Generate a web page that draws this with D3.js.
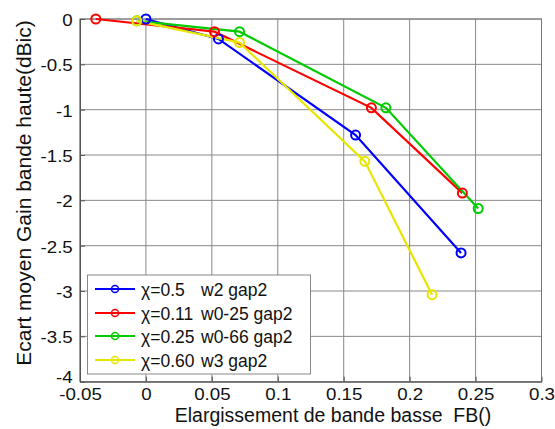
<!DOCTYPE html>
<html><head><meta charset="utf-8">
<script src="https://cdn.jsdelivr.net/npm/d3@7"></script>
<style>body{margin:0;background:#fff}svg{display:block;font-family:Arial,"Liberation Sans",sans-serif}</style>
</head><body><svg id="c" width="555" height="429"></svg>
<script>
const seriesNames = ["χ=0.5", "χ=0.11", "χ=0.25", "χ=0.60"];
const seriesSuffix = ["w2 gap2", "w0-25 gap2", "w0-66 gap2", "w3 gap2"];
const seriesColors = ["#0000ff", "#ff0000", "#00cc00", "#e6e600"];
const blueX = [0, 0.055, 0.159, 0.239];
const blueY = [0, -0.22, -1.28, -2.58];
const redX = [-0.038, 0.052, 0.171, 0.240];
const redY = [0, -0.14, -0.98, -1.92];
const greenX = [-0.007, 0.071, 0.182, 0.252];
const greenY = [-0.02, -0.14, -0.98, -2.09];
const yellowX = [-0.007, 0.071, 0.166, 0.217];
const yellowY = [-0.02, -0.26, -1.57, -3.04];
const xTicks = [-0.05, 0, 0.05, 0.1, 0.15, 0.2, 0.25, 0.3];
const yTicks = [0, -0.5, -1, -1.5, -2, -2.5, -3, -3.5, -4];
const xLabel = "Elargissement de bande basse  FB()";
const yLabel = "Ecart moyen Gain bande haute(dBic)";

const svg = d3.select("#c");
const L = 80, R = 541.5, T = 19, B = 381.7;
const x = d3.scaleLinear().domain([-0.05, 0.3]).range([L, R]);
const y = d3.scaleLinear().domain([-4, 0]).range([B, T]);
const gridC = "#888";

// grid
svg.append("g").selectAll("line").data(xTicks).join("line")
  .attr("x1", d => x(d)).attr("x2", d => x(d)).attr("y1", T).attr("y2", B)
  .attr("stroke", gridC).attr("stroke-width", 1);
svg.append("g").selectAll("line").data(yTicks).join("line")
  .attr("y1", d => y(d)).attr("y2", d => y(d)).attr("x1", L).attr("x2", R)
  .attr("stroke", gridC).attr("stroke-width", 1);
svg.append("rect").attr("x", L).attr("y", T).attr("width", R - L).attr("height", B - T)
  .attr("fill", "none").attr("stroke", "#777").attr("stroke-width", 1);

// axes
const fmt = d => d === 0 ? "0" : String(d);
const xAxis = svg.append("g").attr("transform", `translate(0,${B})`)
  .call(d3.axisBottom(x).tickValues(xTicks).tickFormat(fmt).tickSizeInner(-5).tickSizeOuter(0).tickPadding(7));
const yAxis = svg.append("g").attr("transform", `translate(${L},0)`)
  .call(d3.axisLeft(y).tickValues(yTicks).tickFormat(fmt).tickSizeInner(-5).tickSizeOuter(0).tickPadding(6.2));
[xAxis, yAxis].forEach(a => {
  a.select(".domain").attr("stroke", "#555");
  a.selectAll(".tick line").attr("stroke", "#555");
  a.selectAll(".tick text").attr("font-size", 16).attr("fill", "#111")
    .attr("font-family", "Arial, 'Liberation Sans', sans-serif")
    .attr("transform", "scale(1.17,1)");
});
yAxis.selectAll(".tick text").attr("dy", d => d === -4 ? "0.05em" : "0.4em");

svg.append("text").attr("x", 333).attr("y", 421.5).attr("text-anchor", "middle")
  .attr("xml:space", "preserve").style("white-space", "pre")
  .attr("font-size", 19.5).attr("fill", "#111").text(xLabel);
svg.append("text").attr("transform", "translate(31,193) rotate(-90)").attr("text-anchor", "middle")
  .attr("font-size", 21).attr("fill", "#111").text(yLabel);

// series
const series = [
  {xs: blueX, ys: blueY}, {xs: redX, ys: redY},
  {xs: greenX, ys: greenY}, {xs: yellowX, ys: yellowY}
];
const line = d3.line().x(d => x(d[0])).y(d => y(d[1]));
series.forEach((s, i) => {
  const pts = s.xs.map((v, j) => [v, s.ys[j]]);
  svg.append("path").attr("d", line(pts)).attr("fill", "none")
    .attr("stroke", seriesColors[i]).attr("stroke-width", 2.2);
});
series.forEach((s, i) => {
  const pts = s.xs.map((v, j) => [v, s.ys[j]]);
  svg.append("g").selectAll("circle").data(pts).join("circle")
    .attr("cx", d => x(d[0])).attr("cy", d => y(d[1])).attr("r", 4.5)
    .attr("fill", "none").attr("stroke", seriesColors[i]).attr("stroke-width", 2);
});

// legend
const lg = svg.append("g");
lg.append("rect").attr("x", 87.5).attr("y", 275).attr("width", 223).attr("height", 99)
  .attr("fill", "#fff").attr("stroke", "#888").attr("stroke-width", 1);
const rowY = [289, 313, 336, 360];
seriesNames.forEach((n, i) => {
  lg.append("line").attr("x1", 95).attr("x2", 135).attr("y1", rowY[i]).attr("y2", rowY[i])
    .attr("stroke", seriesColors[i]).attr("stroke-width", 2.2);
  lg.append("circle").attr("cx", 115).attr("cy", rowY[i]).attr("r", 3.5)
    .attr("fill", "none").attr("stroke", seriesColors[i]).attr("stroke-width", 1.5);
  lg.append("text").attr("x", 141).attr("y", rowY[i] + 6.5).attr("font-size", 17.5).attr("fill", "#111").text(n);
  lg.append("text").attr("x", 201).attr("y", rowY[i] + 6.5).attr("font-size", 17.5).attr("fill", "#111").text(seriesSuffix[i]);
});
</script></body></html>
